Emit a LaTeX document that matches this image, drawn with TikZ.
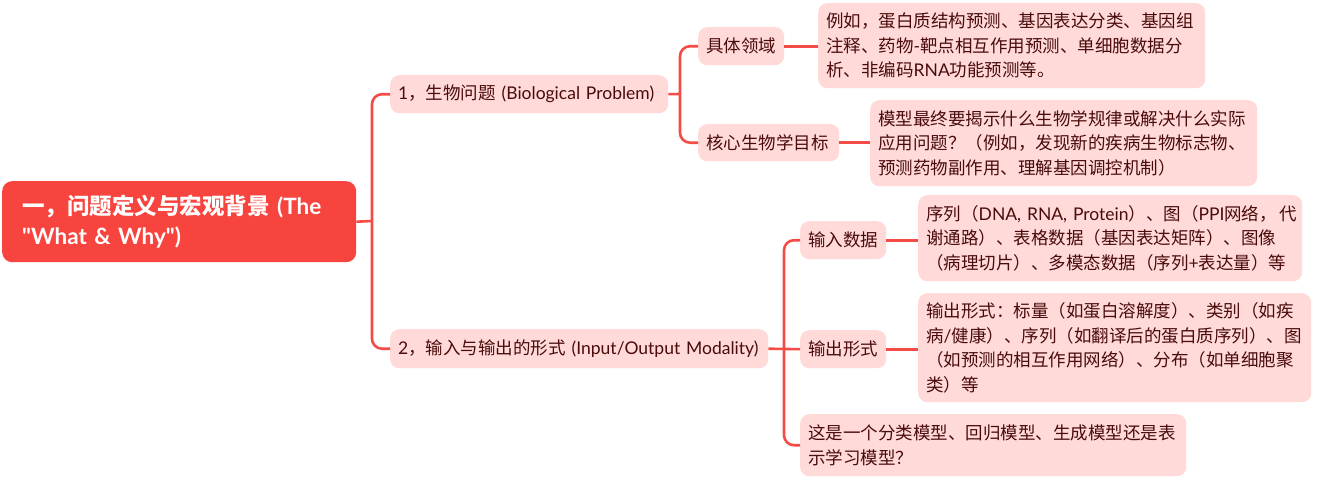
\documentclass[tikz,border=0pt]{standalone}
\usepackage{fontspec}
\setmainfont{Noto Sans CJK SC}
\newfontfamily\lat{Lato}
\definecolor{rootred}{HTML}{F8443E}
\definecolor{linered}{HTML}{F54B47}
\definecolor{pinkfill}{HTML}{FFDAD9}
\definecolor{txt}{HTML}{4A0B0B}
\newcommand\la[1]{{\lat #1}}
\hyphenpenalty=10000
\exhyphenpenalty=10000
\begin{document}
\begin{tikzpicture}[x=1pt,y=-1pt,
  box/.style={draw=none, fill=pinkfill, rounded corners=9pt, text=txt, inner xsep=8pt, inner ysep=0pt,
    anchor=north west, align=left, font=\fontsize{17.5}{24.5}\selectfont},
  rootbox/.style={draw=none, fill=rootred, rounded corners=10pt, text=white, inner xsep=20pt, inner ysep=0pt,
    anchor=north west, align=left, font=\fontsize{22.5}{30}\selectfont\bfseries},
  conn/.style={draw=linered, line width=2.6pt, rounded corners=10pt}]
\useasboundingbox (0,0) rectangle (1325,482);

\node[rootbox, text width=314pt, minimum height=81pt] (root) at (2,181)
  {一，问题定义与宏观背景 \la{(The}\\\la{"What \& Why")}};

\node[box, text width=262pt, minimum height=38pt] (b1) at (390,75) {\la{1}，生物问题 \la{(Biological Problem)}};
\node[box, text width=362pt, minimum height=39pt] (b2) at (390,329) {\la{2}，输入与输出的形式 \la{(Input/Output Modality)}};

\node[box, text width=70pt, minimum height=38pt] (c1) at (698,27) {具体领域};
\node[box, text width=125pt, minimum height=37pt] (c2) at (698,124) {核心生物学目标};

\node[box, text width=371pt, minimum height=85pt] (l1) at (818,3)
  {例如，蛋白质结构预测、基因表达分类、基因组\\注释、药物\la{-}靶点相互作用预测、单细胞数据分\\析、非编码\la{RNA}功能预测等。};
\node[box, text width=371pt, minimum height=86pt] (l2) at (870,100)
  {模型最终要揭示什么生物学规律或解决什么实际\\应用问题？（例如，发现新的疾病生物标志物、\\预测药物副作用、理解基因调控机制）};

\node[box, text width=70pt, minimum height=38pt] (c3) at (800,221) {输入数据};
\node[box, text width=70pt, minimum height=38pt] (c4) at (800,330) {输出形式};

\node[box, text width=368pt, minimum height=86pt] (l3) at (918,195)
  {\mbox{序列（\la{DNA,~RNA,~Protein}）、图（\la{PPI}网络，\hspace{3pt}代}\\谢通路）、表格数据（基因表达矩阵）、图像\\（病理切片）、多模态数据（序列\la{+}表达量）等};
\node[box, text width=377pt, minimum height=109pt] (l4) at (918,293)
  {输出形式：标量（如蛋白溶解度）、类别（如疾\\病\la{/}健康）、序列（如翻译后的蛋白质序列）、图\\（如预测的相互作用网络）、分布（如单细胞聚\\类）等};
\node[box, text width=370pt, minimum height=62pt] (l5) at (800,414)
  {这是一个分类模型、回归模型、生成模型还是表\\示学习模型？};

\coordinate (j1) at (372,221);
\coordinate (j2) at (680,94);
\coordinate (j3) at (784,348.5);

\draw[conn] (root.east) -- (j1);
\draw[conn] (b1.west) -| (j1) |- (b2.west);
\draw[conn] (b1.east) -- (j2);
\draw[conn] (c1.west) -| (j2) |- (c2.west);
\draw[conn] (c1.east) -- (c1.east -| l1.west);
\draw[conn] (c2.east) -- (c2.east -| l2.west);
\draw[conn] (b2.east) -- (c4.west);
\draw[conn] (c3.west) -| (j3) |- (l5.west);
\draw[conn] (c3.east) -- (c3.east -| l3.west);
\draw[conn] (c4.east) -- (c4.east -| l4.west);
\end{tikzpicture}
\end{document}
